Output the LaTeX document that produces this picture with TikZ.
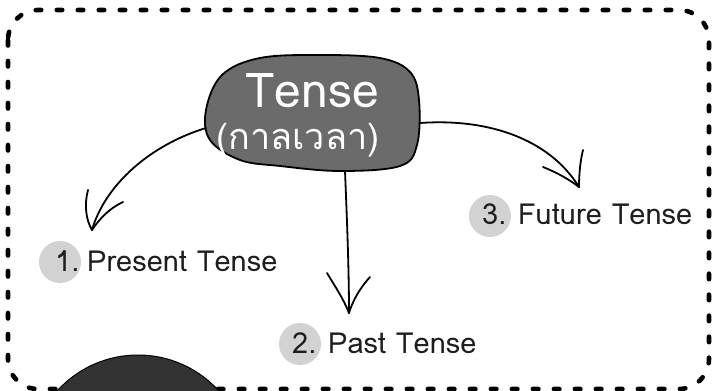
\documentclass[tikz,border=0pt]{standalone}
\usepackage{fontspec}
\setmainfont{Loma}[Script=Thai]
\newfontfamily\thaifont[Script=Thai]{Loma}
\definecolor{blobgray}{HTML}{6B6B6B}
\definecolor{numgray}{HTML}{D2D2D2}
\definecolor{inkc}{HTML}{1E1E1E}
\definecolor{darkc}{HTML}{333333}
\tikzset{
  border/.style={line width=4.6pt, dash pattern=on 5.5pt off 15.5pt, line cap=round, rounded corners=30pt, draw=black},
  conn/.style={line width=1.8pt, draw=black, line cap=round, line join=round},
  numdot/.style={circle, fill=numgray, minimum size=42pt, inner sep=0pt},
  lbl/.style={text=inkc, font=\fontsize{29}{30}\selectfont, inner sep=0pt},
}
\begin{document}
\begin{tikzpicture}[x=1pt,y=-1pt]
\useasboundingbox (0,0) rectangle (713,391);
\fill[white] (0,0) rectangle (713,391);
\draw[border] (8,10) rectangle (709,389);
% central blob
\draw[line width=1.8pt, fill=blobgray] plot[smooth cycle, tension=0.6] coordinates {(206,110) (222,75) (260,58) (320,55) (380,58) (410,72) (419,100) (417,145) (400,166) (340,171) (280,166) (240,160) (210,140)};
\node[text=white, font=\fontsize{48}{50}\selectfont, inner sep=0pt, anchor=base] (tense) at (312,107) {Tense};
\node[text=white, font=\thaifont\fontsize{36}{36}\selectfont, inner sep=0pt] (thai) at (298,140) {(กาลเวลา)};
% start points on blob
\coordinate (s1) at (206,128);
\coordinate (s2) at (345,171);
\coordinate (s3) at (420,123);
% tips
\coordinate (t1) at (92,230);
\coordinate (t2) at (349,313);
\coordinate (t3) at (579,187);
\coordinate (a1) at (88,190);
\coordinate (b1) at (123,202);
\coordinate (a2) at (327,273);
\coordinate (b2) at (370,277);
\coordinate (a3) at (543,167);
\coordinate (b3) at (583,150);
\draw[conn] (s1) .. controls (150,145) and (105,185) .. (t1);
\draw[conn] (a1) .. controls (84,205) and (86,220) .. (t1);
\draw[conn] (b1) .. controls (110,208) and (100,218) .. (t1);
\draw[conn] (s2) .. controls (347,220) and (349,270) .. (t2);
\draw[conn] (a2) .. controls (336,288) and (343,298) .. (t2);
\draw[conn] (b2) .. controls (360,288) and (353,300) .. (t2);
\draw[conn] (s3) .. controls (490,118) and (550,140) .. (t3);
\draw[conn] (a3) .. controls (558,173) and (570,180) .. (t3);
\draw[conn] (b3) .. controls (580,162) and (579,176) .. (t3);
% numbered labels
\node[numdot] (c1) at (60,262) {};
\node[lbl, anchor=base west] (n1) at (55,271) {1.};
\node[lbl, anchor=base west] (l1) at (87,271) {Present Tense};
\node[numdot] (c2) at (300,344) {};
\node[lbl, anchor=base west] (n2) at (292,353) {2.};
\node[lbl, anchor=base west] (l2) at (328,353) {Past Tense};
\node[numdot] (c3) at (490,216) {};
\node[lbl, anchor=base west] (n3) at (482,224) {3.};
\node[lbl, anchor=base west] (l3) at (518,224) {Future Tense};
% dark circle at bottom
\draw[line width=1pt, fill=darkc] (138,464) circle (109);
\end{tikzpicture}
\end{document}
